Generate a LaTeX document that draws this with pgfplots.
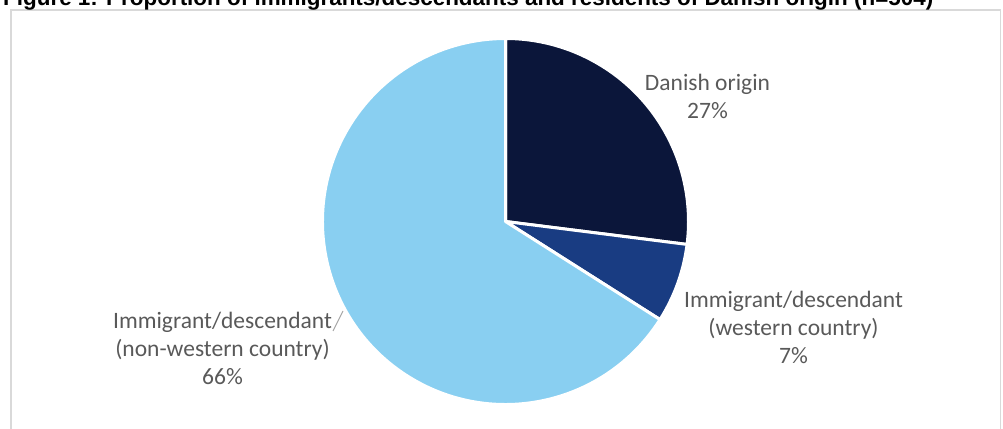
\documentclass[border=0pt]{standalone}
\usepackage{pgfplots}
\usepackage{pgfplotstable}
\pgfplotsset{compat=1.18}
\usepackage{fontspec}
\setmainfont{Carlito}
\newfontfamily\titlefont{Liberation Sans}

\definecolor{navy}{HTML}{0B163A}
\definecolor{midblue}{HTML}{193C82}
\definecolor{lightblue}{HTML}{89CFF1}
\definecolor{textgray}{HTML}{595959}
\definecolor{framegray}{HTML}{D9D9D9}

% shares in percent, clockwise from 12 o'clock
\pgfplotstableread{
share col
27 navy
7 midblue
66 lightblue
}\piedata

\begin{document}
\begin{tikzpicture}
\begin{axis}[
    name=ax,
    scale only axis,
    width=1003pt, height=428pt,
    xmin=0, xmax=1003, ymin=0, ymax=428,
    hide axis,
    clip=false,
  ]
  % frame round the chart area
  \draw[framegray, line width=1.3pt] (axis cs:11,-5) -- (axis cs:11,418) -- (axis cs:1000.5,418) -- (axis cs:1000.5,-5);

  % pie slices
  \def\angstart{90}
  \pgfplotsforeachungrouped \i in {0,1,2}{%
    \pgfplotstablegetelem{\i}{share}\of\piedata \let\sh=\pgfplotsretval
    \pgfplotstablegetelem{\i}{col}\of\piedata \let\cl=\pgfplotsretval
    \pgfmathsetmacro{\angend}{\angstart-3.6*\sh}
    \edef\cmd{\noexpand\fill[\cl, draw=white, line width=3pt, line join=round]
      (axis cs:505.5,206.5) -- ++(\angstart:183pt)
      arc[start angle=\angstart, end angle=\angend, radius=183pt] -- cycle;}
    \cmd
    \let\angstart=\angend
  }

  % data labels
  \begin{scope}[every node/.style={anchor=base, text=textgray, font=\fontsize{23.5}{28}\selectfont, inner sep=0pt}]
    \node at (axis cs:707.5,337) {Danish origin};
    \node at (axis cs:707.5,309) {27\%};
    \node at (axis cs:793.5,120) {Immigrant/descendant};
    \node at (axis cs:793.5,92) {(western country)};
    \node at (axis cs:793.5,64) {7\%};
    \node at (axis cs:222.5,99) {Immigrant/descendant};
    \node at (axis cs:222.5,71) {(non-western country)};
    \node at (axis cs:222.5,43) {66\%};
  \end{scope}
  \draw[gray!70, line width=1pt] (axis cs:333,97) -- (axis cs:343,117);

  % title, cut at the top edge of the picture
  \node[anchor=base west, inner sep=0pt] at (axis cs:3,422.5)
    {\resizebox{930pt}{!}{\titlefont\bfseries Figure 1: Proportion of immigrants/descendants and residents of Danish origin (n=504)}};
\end{axis}
\pgfresetboundingbox
\path[use as bounding box] (ax.south west) rectangle (ax.north east);
\end{tikzpicture}
\end{document}
